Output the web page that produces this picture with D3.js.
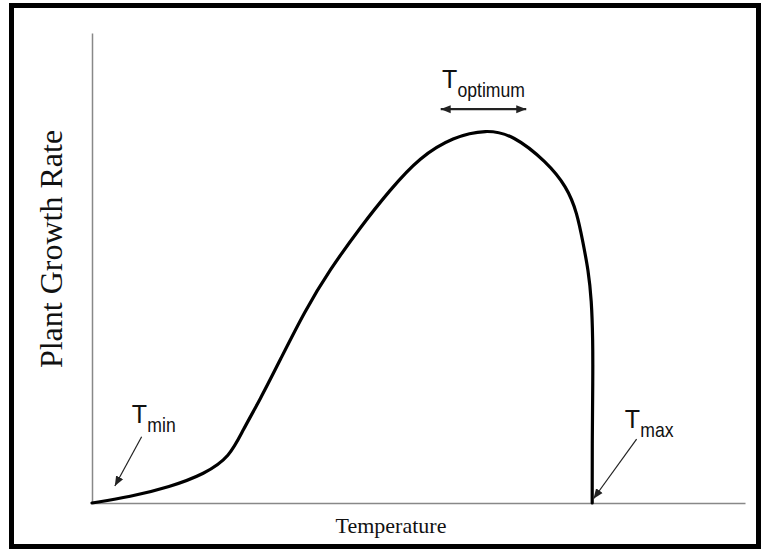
<!DOCTYPE html>
<html>
<head>
<meta charset="utf-8">
<script src="https://cdn.jsdelivr.net/npm/d3@7"></script>
<style>
  body { margin: 0; background: #fff; }
  svg { display: block; }
</style>
</head>
<body>
<svg width="764" height="549"></svg>
<script>
"use strict";

// growth curve (temperature 0-100, rate 0-100)
var temps = [0, 5.8, 11.9, 17.3, 21.1, 23.1, 25.7, 28.8, 32.6, 36.4, 41.0, 45.6, 50.2, 55.3, 60.4,
             64.5, 69.6, 72.7, 74.3, 75.2, 76.0, 76.5, 76.7, 76.7, 76.6, 76.6];
var rates = [0, 1.3, 3.4, 6.2, 9.8, 15.5, 21.9, 30.4, 40.9, 49.6, 58.5, 66.6, 73.6, 77.9, 79.5,
             78.3, 72.6, 67.3, 61.7, 55.3, 49.6, 43.2, 34.7, 26.2, 13.4, 0];

// callouts: label, subscript, arrow tail -> tip, label position
var labels = ["T", "T", "T"];
var subs = ["min", "max", "optimum"];
var arrowFrom = [[7.6, 14.1], [83.4, 13.6], [53.4, 83.8]];
var arrowTo = [[3.5, 3.6], [76.8, 0.9], [66.5, 83.8]];
var labelAt = [[6.1, 17.0], [81.6, 15.9], [53.6, 88.3]];

var svg = d3.select("svg"),
    width = +svg.attr("width"),
    height = +svg.attr("height");

var x = d3.scaleLinear().domain([0, 100]).range([92, 745]);
var y = d3.scaleLinear().domain([0, 100]).range([503, 33]);

var defs = svg.append("defs");
defs.append("marker").attr("id", "head")
  .attr("viewBox", "0 0 10 10").attr("refX", 10).attr("refY", 5)
  .attr("markerWidth", 10).attr("markerHeight", 10)
  .attr("markerUnits", "userSpaceOnUse").attr("orient", "auto-start-reverse")
  .append("path").attr("d", "M0,1 L10,5 L0,9 Z").attr("fill", "#222");

// frame
svg.append("rect")
  .attr("x", 11.5).attr("y", 5.5)
  .attr("width", 747).attr("height", 541)
  .attr("fill", "none").attr("stroke", "#000").attr("stroke-width", 5);

// axes, no ticks
svg.append("g").attr("transform", "translate(0," + y(0) + ")")
  .call(d3.axisBottom(x).ticks(0).tickSizeOuter(0))
  .call(function (g) { g.select(".domain").attr("stroke", "#888").attr("stroke-width", 1.5); });
svg.append("g").attr("transform", "translate(" + x(0) + ",0)")
  .call(d3.axisLeft(y).ticks(0).tickSizeOuter(0))
  .call(function (g) { g.select(".domain").attr("stroke", "#888").attr("stroke-width", 1.5); });

var line = d3.line()
  .x(function (d, i) { return x(temps[i]); })
  .y(function (d, i) { return y(rates[i]); })
  .curve(d3.curveBasis);

svg.append("path").datum(temps)
  .attr("d", line)
  .attr("fill", "none").attr("stroke", "#000").attr("stroke-width", 3.2)
  .attr("stroke-linejoin", "round").attr("stroke-linecap", "round");

// callout arrows
subs.forEach(function (s, i) {
  var a = svg.append("line")
    .attr("x1", x(arrowFrom[i][0])).attr("y1", y(arrowFrom[i][1]))
    .attr("x2", x(arrowTo[i][0])).attr("y2", y(arrowTo[i][1]))
    .attr("stroke", "#222").attr("stroke-width", s == "optimum" ? 2.2 : 1.2)
    .attr("marker-end", "url(#head)");
  if (s == "optimum") a.attr("marker-start", "url(#head)");

  var lx = x(labelAt[i][0]), ly = y(labelAt[i][1]);
  svg.append("text")
    .attr("x", lx).attr("y", ly)
    .attr("font-family", "'Liberation Sans', Arial, sans-serif")
    .attr("font-size", 25).attr("fill", "#111")
    .text(labels[i]);
  svg.append("text")
    .attr("transform", "translate(" + (lx + 15.5) + "," + (ly + 9) + ") scale(0.88,1)")
    .attr("font-family", "'Liberation Sans', Arial, sans-serif")
    .attr("font-size", 20).attr("fill", "#111")
    .text(s);
});

// axis titles
svg.append("text")
  .attr("transform", "translate(61.5,249) rotate(-90)")
  .attr("text-anchor", "middle")
  .attr("font-family", "'Liberation Serif', 'Times New Roman', serif")
  .attr("font-size", 32).attr("fill", "#111")
  .text("Plant Growth Rate");

svg.append("text")
  .attr("x", 391).attr("y", 533)
  .attr("text-anchor", "middle")
  .attr("font-family", "'Liberation Serif', 'Times New Roman', serif")
  .attr("font-size", 22).attr("fill", "#111")
  .text("Temperature");
</script>
</body>
</html>
